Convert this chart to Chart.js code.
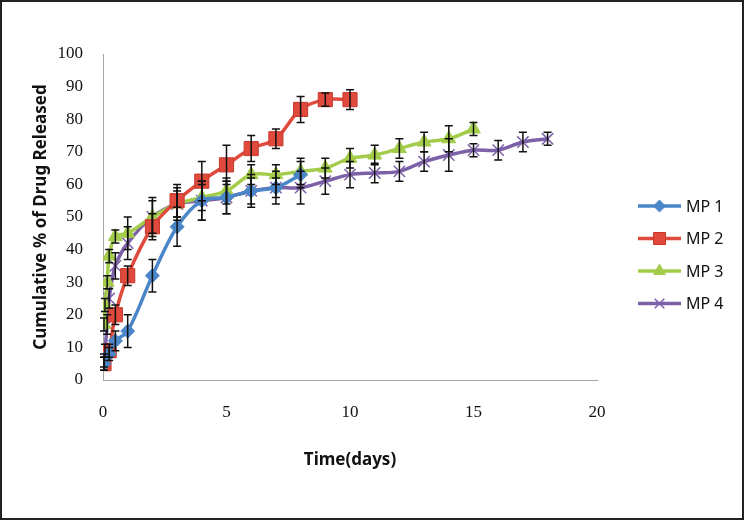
<!DOCTYPE html>
<html>
<head>
<meta charset="utf-8">
<title>Cumulative drug release</title>
<script src="https://cdn.jsdelivr.net/npm/chart.js@4.4.0/dist/chart.umd.min.js"></script>
<style>
  html, body { margin: 0; padding: 0; background: #fff; }
  #wrap { width: 744px; height: 520px; position: relative; }
</style>
</head>
<body>
<div id="wrap"><canvas id="releaseChart" width="744" height="520"></canvas></div>
<script>
// values
const seriesNames = ['MP 1', 'MP 2', 'MP 3', 'MP 4'];

const mp1Days = [0.04, 0.25, 0.5, 1, 2, 3, 4, 5, 6, 7, 8];
const mp1Release = [5, 8, 12, 15, 32, 47, 55, 56, 58, 59, 63];
const mp1Err = [2, 2, 3, 5, 5, 6, 6, 5, 4, 3, 4];

const mp2Days = [0.04, 0.25, 0.5, 1, 2, 3, 4, 5, 6, 7, 8, 9, 10];
const mp2Release = [5, 9, 20, 32, 47, 55, 61, 66, 71, 74, 83, 86, 86];
const mp2Err = [2, 2, 3, 3, 4, 5, 6, 6, 4, 3, 4, 2, 3];

const mp3Days = [0.04, 0.08, 0.17, 0.25, 0.5, 1, 2, 3, 4, 5, 6, 7, 8, 9, 10, 11, 12, 13, 14, 15];
const mp3Release = [17, 23, 30, 38, 44, 45, 50, 54, 56, 58, 63, 63, 64, 65, 68, 69, 71, 73, 74, 77];
const mp3Err = [2, 2, 2, 2, 2, 5, 5, 4, 4, 4, 3, 3, 4, 3, 3, 3, 3, 3, 4, 2];

const mp4Days = [0.04, 0.08, 0.17, 0.25, 0.5, 1, 2, 3, 4, 5, 6, 7, 8, 9, 10, 11, 12, 13, 14, 15, 16, 17, 18];
const mp4Release = [6, 9, 17, 25, 35, 42, 50, 54, 55, 56, 58, 59, 59, 61, 63, 63.5, 64, 67, 69, 70.5, 70.5, 73, 74];
const mp4Err = [2, 2, 3, 3, 4, 5, 6, 5, 6, 5, 5, 5, 5, 4, 4, 3, 3, 3, 5, 2, 3, 3, 2];

const xTicks = [0, 5, 10, 15, 20];
const yTicks = [0, 10, 20, 30, 40, 50, 60, 70, 80, 90, 100];

const seriesColors = ['#4a86c8', '#e04a3c', '#a3cc4a', '#7c60a8'];
const markerStyles = ['rectRot', 'rect', 'triangle', 'crossRot'];
const markerSizes = [7, 10, 8, 8];

function toPoints(days, vals) {
  return days.map((d, i) => ({ x: d, y: vals[i] }));
}

const allDays = [mp1Days, mp2Days, mp3Days, mp4Days];
const allVals = [mp1Release, mp2Release, mp3Release, mp4Release];
const allErrs = [mp1Err, mp2Err, mp3Err, mp4Err];

const datasets = seriesNames.map((name, i) => ({
  label: name,
  data: toPoints(allDays[i], allVals[i]),
  errors: allErrs[i],
  borderColor: seriesColors[i],
  backgroundColor: seriesColors[i],
  pointBorderColor: i === 1 ? '#c8382c' : seriesColors[i],
  pointBackgroundColor: seriesColors[i],
  pointStyle: markerStyles[i],
  pointRadius: markerSizes[i],
  pointBorderWidth: i === 3 ? 1.5 : 1,
  borderWidth: 3.5,
  tension: 0.35,
  fill: false,
}));

// frame around the picture
const framePlugin = {
  id: 'frame',
  afterDraw(chart) {
    const ctx = chart.ctx;
    ctx.save();
    ctx.strokeStyle = '#222';
    ctx.lineWidth = 2;
    ctx.strokeRect(1, 1, chart.width - 2, chart.height - 2);
    ctx.restore();
  }
};

// vertical error bars, placed through the scales
const errorBarPlugin = {
  id: 'errorBars',
  afterDatasetsDraw(chart) {
    const ctx = chart.ctx;
    const xs = chart.scales.x;
    const ys = chart.scales.y;
    ctx.save();
    ctx.strokeStyle = '#111';
    ctx.lineWidth = 1.5;
    chart.data.datasets.forEach(ds => {
      ds.data.forEach((p, j) => {
        const e = ds.errors[j];
        if (!e) return;
        const px = xs.getPixelForValue(p.x);
        const top = ys.getPixelForValue(p.y + e);
        const bot = ys.getPixelForValue(p.y - e);
        ctx.beginPath();
        ctx.moveTo(px, top); ctx.lineTo(px, bot);
        ctx.moveTo(px - 4, top); ctx.lineTo(px + 4, top);
        ctx.moveTo(px - 4, bot); ctx.lineTo(px + 4, bot);
        ctx.stroke();
      });
    });
    ctx.restore();
  }
};

// Excel-like legend: line with a marker in the middle
const legendPlugin = {
  id: 'sideLegend',
  afterDraw(chart) {
    const ctx = chart.ctx;
    const left = 638, right = 681, firstY = 206, gap = 32.5;
    ctx.save();
    chart.data.datasets.forEach((ds, i) => {
      const y = firstY + i * gap;
      ctx.strokeStyle = ds.borderColor;
      ctx.lineWidth = 3.5;
      ctx.beginPath();
      ctx.moveTo(left, y);
      ctx.lineTo(right, y);
      ctx.stroke();
      ctx.fillStyle = ds.pointBackgroundColor;
      ctx.strokeStyle = ds.pointBorderColor;
      ctx.lineWidth = ds.pointBorderWidth;
      Chart.helpers.drawPoint(ctx, { pointStyle: ds.pointStyle, radius: ds.pointRadius * 0.85, borderWidth: ds.pointBorderWidth, rotation: 0 }, (left + right) / 2, y);
      ctx.fillStyle = '#111';
      ctx.font = '16px "Noto Sans"';
      ctx.textBaseline = 'middle';
      ctx.fillText(ds.label, right + 5, y + 1);
    });
    ctx.restore();
  }
};

const ctx = document.getElementById('releaseChart').getContext('2d');
new Chart(ctx, {
  type: 'line',
  data: { datasets },
  plugins: [errorBarPlugin, legendPlugin, framePlugin],
  options: {
    responsive: false,
    animation: false,
    layout: { padding: { left: 0, right: 147, top: 54, bottom: 0 } },
    plugins: {
      legend: { display: false },
      tooltip: { enabled: false },
    },
    scales: {
      x: {
        type: 'linear',
        min: 0,
        max: 20,
        afterBuildTicks: s => { s.ticks = xTicks.map(v => ({ value: v })); },
        afterFit: s => { s.height = 140; },
        grid: { display: false, drawTicks: false },
        border: { color: '#a6a6a6', width: 1 },
        ticks: { color: '#111', padding: 22, font: { family: '"Liberation Serif"', size: 17 } },
        title: {
          display: true,
          text: 'Time(days)',
          color: '#111',
          padding: { bottom: 50 },
          font: { family: '"Noto Sans"', size: 17, weight: 'bold' },
        },
      },
      y: {
        min: 0,
        max: 100,
        afterBuildTicks: s => { s.ticks = yTicks.map(v => ({ value: v })); },
        afterFit: s => { s.width = 103; },
        grid: { display: false, drawTicks: false },
        border: { color: '#a6a6a6', width: 1 },
        ticks: { color: '#111', padding: 20, font: { family: '"Liberation Serif"', size: 17 } },
        title: {
          display: true,
          text: 'Cumulative % of Drug Released',
          color: '#111',
          padding: { top: 31 },
          font: { family: '"Noto Sans"', size: 17, weight: 'bold' },
        },
      },
    },
  },
});
</script>
</body>
</html>
